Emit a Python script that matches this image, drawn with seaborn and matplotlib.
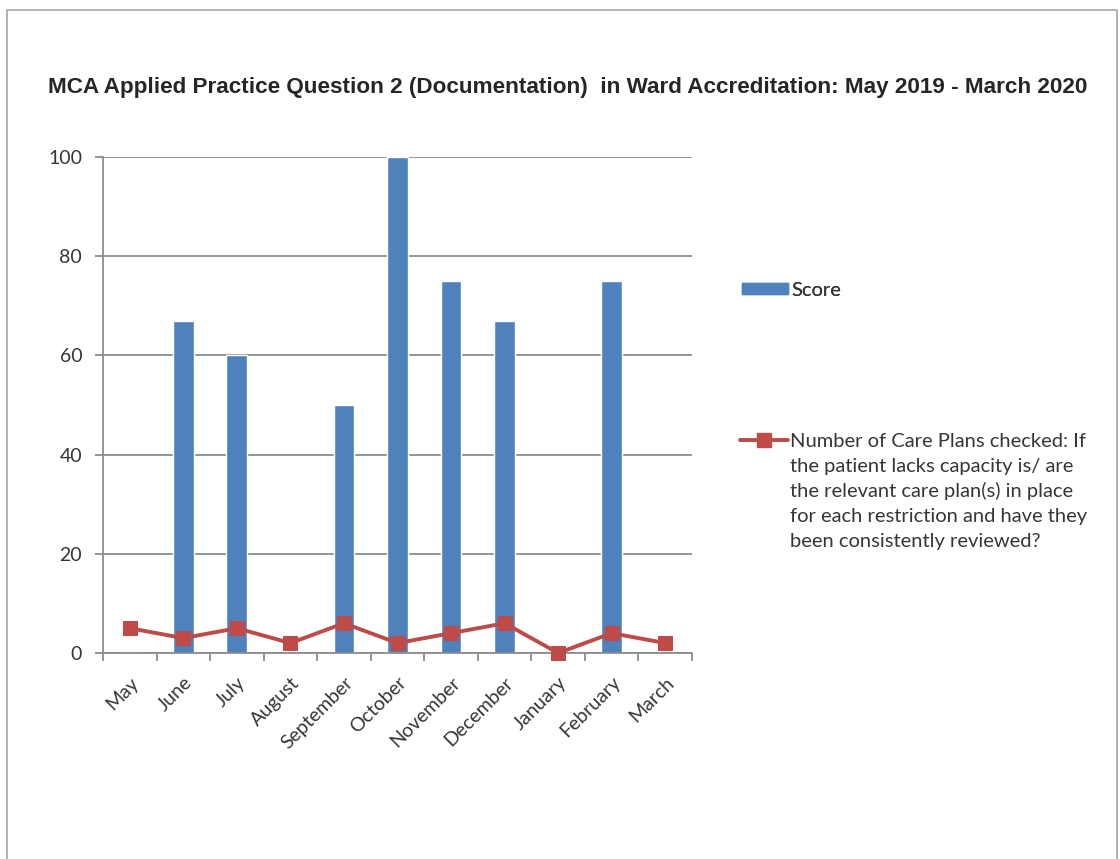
import matplotlib
matplotlib.use("Agg")
import matplotlib.pyplot as plt
from matplotlib.lines import Line2D
from matplotlib.patches import Patch, Rectangle
import seaborn as sns
import pandas as pd

months = ["May", "June", "July", "August", "September", "October",
          "November", "December", "January", "February", "March"]
score = [0, 67, 60, 0, 50, 100, 75, 67, 0, 75, 0]
plans_checked = [5, 3, 5, 2, 6, 2, 4, 6, 0, 4, 2]
y_ticks = [0, 20, 40, 60, 80, 100]

title = "MCA Applied Practice Question 2 (Documentation)  in Ward Accreditation: May 2019 - March 2020"
score_label = "Score"
plans_label_lines = ["Number of Care Plans checked: If",
                     "the patient lacks capacity is/ are",
                     "the relevant care plan(s) in place",
                     "for each restriction and have they",
                     "been consistently reviewed?"]

BLUE = "#4F81BD"
RED = "#BE4B48"
GRID = "#8C8C8C"
TEXT = "#363636"

sns.set_theme(style="white")
plt.rcParams["font.family"] = ["Lato", "DejaVu Sans"]

df = pd.DataFrame({"month": months, "score": score, "plans": plans_checked})

W, H = 1120, 859
fig = plt.figure(figsize=(W / 100, H / 100), dpi=100)
fig.patch.set_facecolor("white")

# outer chart frame
fig.add_artist(Rectangle((7 / W, -0.05), (1117 - 7) / W, 1 - 10 / H + 0.05,
                         transform=fig.transFigure, fill=False,
                         edgecolor="#A6A6A6", linewidth=1.2))

left, right, top, bottom = 103, 692, 157, 653
ax = fig.add_axes([left / W, 1 - bottom / H, (right - left) / W, (bottom - top) / H])

sns.barplot(data=df, x="month", y="score", color=BLUE, width=0.39,
            saturation=1, ax=ax, zorder=2)
sns.lineplot(data=df, x="month", y="plans", color=RED, linewidth=2.8,
             marker="s", markersize=10.5, markeredgecolor=RED, ax=ax,
             zorder=3, clip_on=False)

ax.set_xlim(-0.5, len(months) - 0.5)
ax.set_ylim(0, 100)
ax.set_yticks(y_ticks)
ax.set_xlabel("")
ax.set_ylabel("")

for s in ["top", "right"]:
    ax.spines[s].set_visible(False)
for s in ["left", "bottom"]:
    ax.spines[s].set_color(GRID)
    ax.spines[s].set_linewidth(1.3)

ax.yaxis.grid(True, color=GRID, linewidth=1.3, zorder=0)
ax.set_axisbelow(True)
ax.tick_params(axis="y", left=True, length=6, width=1.3, color=GRID,
               labelsize=14, labelcolor=TEXT, pad=9)

# category ticks sit between the months
ax.set_xticks(range(len(months)))
ax.set_xticklabels(months, rotation=45, ha="right", rotation_mode="anchor",
                   fontsize=14, color=TEXT)
ax.tick_params(axis="x", bottom=False, pad=9)
ax.set_xticks([i - 0.5 for i in range(len(months) + 1)], minor=True)
ax.tick_params(axis="x", which="minor", bottom=True, length=6, width=1.3,
               color=GRID)

fig.text(568 / W, 1 - 87 / H, title, ha="center", va="center",
         fontsize=16.2, fontweight="bold", color="#262626",
         family=["Liberation Sans", "DejaVu Sans"])

leg1 = fig.legend(handles=[Patch(facecolor=BLUE, edgecolor=BLUE)],
                  labels=[score_label], loc="center left",
                  bbox_to_anchor=(742 / W, 1 - 290 / H), frameon=False,
                  borderpad=0, borderaxespad=0,
                  fontsize=14.5, handlelength=2.3, handleheight=0.45,
                  handletextpad=0.15, labelcolor=TEXT)
fig.add_artist(leg1)

leg2 = fig.legend(handles=[Line2D([], [], color=RED, linewidth=2.8, marker="s",
                                  markersize=10)],
                  labels=[plans_label_lines[0]], loc="center left",
                  bbox_to_anchor=(740 / W, 1 - 441 / H), frameon=False,
                  borderpad=0, borderaxespad=0,
                  fontsize=14.5, handlelength=2.4, handletextpad=0.1,
                  labelcolor=TEXT)

# remaining lines of the series name continue under the first legend line
fig.canvas.draw()
first = leg2.get_texts()[0].get_window_extent()
line_step = 25
for i, line in enumerate(plans_label_lines[1:], start=1):
    fig.text(first.x0 / W, (first.y0 - line_step * i) / H, line, ha="left",
             va="bottom", fontsize=14.5, color=TEXT)

fig.savefig("out.png", dpi=100, facecolor="white")
